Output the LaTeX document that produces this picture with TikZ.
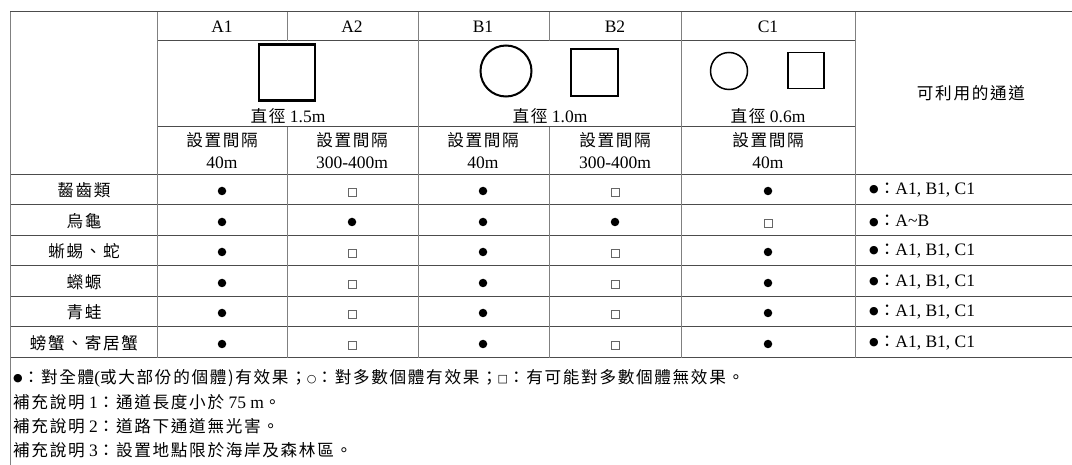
\documentclass[tikz,border=0pt]{standalone}
\usepackage{fontspec}
\setmainfont{Liberation Serif}
\newfontfamily\cjk[Scale=0.95,LetterSpace=10]{Noto Sans CJK TC}
\newfontfamily\sym{DejaVu Sans}
\newcommand{\smdot}{\raisebox{1.5pt}{\sym\fontsize{11}{11}\selectfont ●}}
\newcommand{\smring}{\raisebox{1pt}{\sym\fontsize{11}{11}\selectfont ○}}
\newcommand{\smbox}{\raisebox{1pt}{\sym\fontsize{11}{11}\selectfont □}}

\tikzset{
	txt/.style={font=\fontsize{17.5}{22}\selectfont, inner sep=0pt, align=center},
	hl/.style={black!70, line width=1pt},
	vl/.style={black!50, line width=1pt},
	full/.style={circle, fill=black, minimum size=8.5pt, inner sep=0pt},
	part/.style={draw=black!60, line width=0.8pt, minimum size=8pt, inner sep=0pt},
	pipe/.style={draw=black, inner sep=0pt},
}

\begin{document}
\begin{tikzpicture}[x=1pt,y=-1pt]
	\useasboundingbox (0,0) rectangle (1072,465);

	% grid
	\draw[hl] (10,12) -- (1072,12);
	\draw[hl] (157,41) -- (855,41);
	\draw[hl] (157,127) -- (855,127);
	\draw[hl] (10,175) -- (1072,175);
	\draw[hl] (10,205) -- (1072,205);
	\draw[hl] (10,236) -- (1072,236);
	\draw[hl] (10,266) -- (1072,266);
	\draw[hl] (10,297) -- (1072,297);
	\draw[hl] (10,327) -- (1072,327);
	\draw[hl] (10,358) -- (1072,358);
	\draw[vl] (10,12) -- (10,465);
	\draw[vl] (157,12) -- (157,358);
	\draw[vl] (287,12) -- (287,41) (287,127) -- (287,358);
	\draw[vl] (418,12) -- (418,358);
	\draw[vl] (549,12) -- (549,41) (549,127) -- (549,358);
	\draw[vl] (681,12) -- (681,358);
	\draw[vl] (855,12) -- (855,358);

	% header
	\node[txt] (hA1) at (222,27) {A1};
	\node[txt] (hA2) at (352,27) {A2};
	\node[txt] (hB1) at (483,27) {B1};
	\node[txt] (hB2) at (615,27) {B2};
	\node[txt] (hC1) at (768,27) {C1};

	\node[pipe, line width=2.5pt, minimum size=56pt] (pA) at (287,72.5) {};
	\node[pipe, circle, line width=2pt, minimum size=51pt] (pB1) at (506,71) {};
	\node[pipe, line width=2pt, minimum size=47pt] (pB2) at (594.5,73) {};
	\node[pipe, circle, line width=1.5pt, minimum size=37pt] (pC1) at (729,71) {};
	\node[pipe, line width=1.5pt, minimum size=36pt] (pC2) at (806,70.5) {};

	\node[txt] (dA) at (288,116) {{\cjk 直徑} 1.5m};
	\node[txt] (dB) at (550,116) {{\cjk 直徑} 1.0m};
	\node[txt] (dC) at (768,116) {{\cjk 直徑} 0.6m};

	\node[txt] (iA1) at (222,151) {{\cjk 設置間隔}\\40m};
	\node[txt] (iA2) at (352,151) {{\cjk 設置間隔}\\300-400m};
	\node[txt] (iB1) at (483,151) {{\cjk 設置間隔}\\40m};
	\node[txt] (iB2) at (615,151) {{\cjk 設置間隔}\\300-400m};
	\node[txt] (iC1) at (768,151) {{\cjk 設置間隔}\\40m};

	\node[txt] (use) at (971,93) {\cjk 可利用的通道};

	% species
	\node[txt] (s1) at (84,190) {\cjk 齧齒類};
	\node[txt] (s2) at (84,221) {\cjk 烏龜};
	\node[txt] (s3) at (84,251) {\cjk 蜥蜴、蛇};
	\node[txt] (s4) at (84,282) {\cjk 蠑螈};
	\node[txt] (s5) at (84,312) {\cjk 青蛙};
	\node[txt] (s6) at (84,343) {\cjk 螃蟹、寄居蟹};

	% marks
	\node[full] (m11) at (222,191) {}; \node[part] (m12) at (352,192) {}; \node[full] (m13) at (483,191) {}; \node[part] (m14) at (615,192) {}; \node[full] (m15) at (768,191) {};
	\node[full] (m21) at (222,222) {}; \node[full] (m22) at (352,222) {}; \node[full] (m23) at (483,222) {}; \node[full] (m24) at (615,222) {}; \node[part] (m25) at (768,223) {};
	\node[full] (m31) at (222,252) {}; \node[part] (m32) at (352,253) {}; \node[full] (m33) at (483,252) {}; \node[part] (m34) at (615,253) {}; \node[full] (m35) at (768,252) {};
	\node[full] (m41) at (222,283) {}; \node[part] (m42) at (352,284) {}; \node[full] (m43) at (483,283) {}; \node[part] (m44) at (615,284) {}; \node[full] (m45) at (768,283) {};
	\node[full] (m51) at (222,313) {}; \node[part] (m52) at (352,314) {}; \node[full] (m53) at (483,313) {}; \node[part] (m54) at (615,314) {}; \node[full] (m55) at (768,313) {};
	\node[full] (m61) at (222,344) {}; \node[part] (m62) at (352,345) {}; \node[full] (m63) at (483,344) {}; \node[part] (m64) at (615,345) {}; \node[full] (m65) at (768,344) {};

	% usable passages
	\node[txt, anchor=west] (r1) at (869,190) {\smdot{\cjk ：}A1, B1, C1};
	\node[txt, anchor=west] (r2) at (869,221) {\smdot{\cjk ：}A\textasciitilde B};
	\node[txt, anchor=west] (r3) at (869,251) {\smdot{\cjk ：}A1, B1, C1};
	\node[txt, anchor=west] (r4) at (869,282) {\smdot{\cjk ：}A1, B1, C1};
	\node[txt, anchor=west] (r5) at (869,312) {\smdot{\cjk ：}A1, B1, C1};
	\node[txt, anchor=west] (r6) at (869,343) {\smdot{\cjk ：}A1, B1, C1};

	% notes
	\node[txt, anchor=west] (n1) at (13,378) {\smdot{\cjk ：對全體}(\cjk 或大部份的個體)\cjk 有效果；\smring{\cjk ：對多數個體有效果；}\smbox{\cjk ：有可能對多數個體無效果。}};
	\node[txt, anchor=west] (n2) at (13,402) {{\cjk 補充說明} 1{\cjk ：通道長度小於} 75 m{\cjk 。}};
	\node[txt, anchor=west] (n3) at (13,426) {{\cjk 補充說明} 2{\cjk ：道路下通道無光害。}};
	\node[txt, anchor=west] (n4) at (13,450) {{\cjk 補充說明} 3{\cjk ：設置地點限於海岸及森林區。}};
\end{tikzpicture}
\end{document}
